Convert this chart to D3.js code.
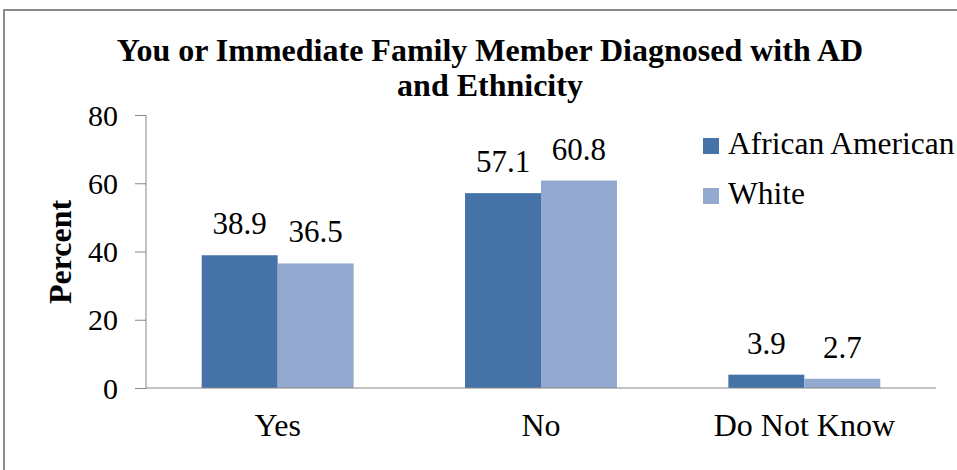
<!DOCTYPE html>
<html>
<head>
<meta charset="utf-8">
<script src="https://cdn.jsdelivr.net/npm/d3@7"></script>
<style>
  body { margin: 0; background: #fff; }
</style>
</head>
<body>
<svg id="chart" width="957" height="470"></svg>
<script>
// datos del grafico
var categories = ["Yes", "No", "Do Not Know"];
var seriesNames = ["African American", "White"];
var africanAmerican = [38.9, 57.1, 3.9];
var white = [36.5, 60.8, 2.7];
var yTicks = [0, 20, 40, 60, 80];
var colors = ["#4572a7", "#93a9cf"];

var FONT = "'Liberation Serif'";

var svg = d3.select("#chart").attr("font-family", FONT);

// marco exterior
svg.append("rect")
    .attr("x", 4).attr("y", 10)
    .attr("width", 1000).attr("height", 500)
    .attr("fill", "none")
    .attr("stroke", "#8c8c8c")
    .attr("stroke-width", 2);

var x0 = d3.scaleBand().domain(categories).range([146, 936]).paddingInner(0.423).paddingOuter(0.2115);
var x1 = d3.scaleBand().domain(seriesNames).range([0, x0.bandwidth()]);
var y = d3.scaleLinear().domain([0, 80]).range([388, 115]);

// titulo
var title = svg.append("text")
    .attr("font-family", FONT)
    .attr("text-anchor", "middle")
    .attr("font-weight", "bold")
    .attr("font-size", 32)
    .attr("fill", "#000");
title.append("tspan").attr("x", 490).attr("y", 61).text("You or Immediate Family Member Diagnosed with AD");
title.append("tspan").attr("x", 490).attr("y", 96).text("and Ethnicity");

// eje y
var yAxis = svg.append("g")
    .attr("transform", "translate(146,0)")
    .call(d3.axisLeft(y).tickValues(yTicks).tickSize(11).tickPadding(17));
yAxis.attr("font-family", FONT);
yAxis.selectAll("line, path").attr("stroke", "#868686");
yAxis.select(".domain").attr("d", "M0," + y(80) + "V" + y(0));
yAxis.selectAll("text")
    .attr("font-family", FONT)
    .attr("font-size", 30)
    .attr("fill", "#000")
    .attr("dy", "0.34em");

svg.append("text")
    .attr("font-family", FONT)
    .attr("transform", "translate(71,252) rotate(-90)")
    .attr("text-anchor", "middle")
    .attr("font-weight", "bold")
    .attr("font-size", 32)
    .text("Percent");

// barras
var rows = categories.map(function (c, i) {
    return { cat: c, vals: [africanAmerican[i], white[i]] };
});

var groups = svg.append("g").selectAll("g")
    .data(rows)
    .join("g")
    .attr("transform", function (d) { return "translate(" + x0(d.cat) + ",0)"; });

groups.selectAll("rect")
    .data(function (d) { return d.vals.map(function (v, j) { return { name: seriesNames[j], v: v, j: j }; }); })
    .join("rect")
    .attr("x", function (d) { return x1(d.name); })
    .attr("y", function (d) { return y(d.v); })
    .attr("width", x1.bandwidth())
    .attr("height", function (d) { return y(0) - y(d.v); })
    .attr("fill", function (d) { return colors[d.j]; });

groups.selectAll("text")
    .data(function (d) { return d.vals.map(function (v, j) { return { name: seriesNames[j], v: v }; }); })
    .join("text")
    .attr("font-family", FONT)
    .attr("x", function (d) { return x1(d.name) + x1.bandwidth() / 2; })
    .attr("y", function (d) { return y(d.v) - 21; })
    .attr("text-anchor", "middle")
    .attr("font-size", 31)
    .text(function (d) { return d.v.toFixed(1); });

// eje x
var xAxis = svg.append("g")
    .attr("transform", "translate(0," + y(0) + ")")
    .call(d3.axisBottom(x0).tickSize(0).tickPadding(48));
xAxis.attr("font-family", FONT);
xAxis.select(".domain").attr("stroke", "#868686").attr("d", "M146,0H936");
xAxis.selectAll("text")
    .attr("font-family", FONT)
    .attr("font-size", 32)
    .attr("fill", "#000")
    .attr("dy", "0");

// leyenda
var legend = svg.append("g").selectAll("g")
    .data(seriesNames)
    .join("g")
    .attr("transform", function (d, i) { return "translate(703," + (138 + i * 50) + ")"; });
legend.append("rect")
    .attr("width", 16).attr("height", 16)
    .attr("fill", function (d, i) { return colors[i]; });
legend.append("text")
    .attr("font-family", FONT)
    .attr("x", 25).attr("y", 16)
    .attr("font-size", 31.5)
    .text(function (d) { return d; });
</script>
</body>
</html>
